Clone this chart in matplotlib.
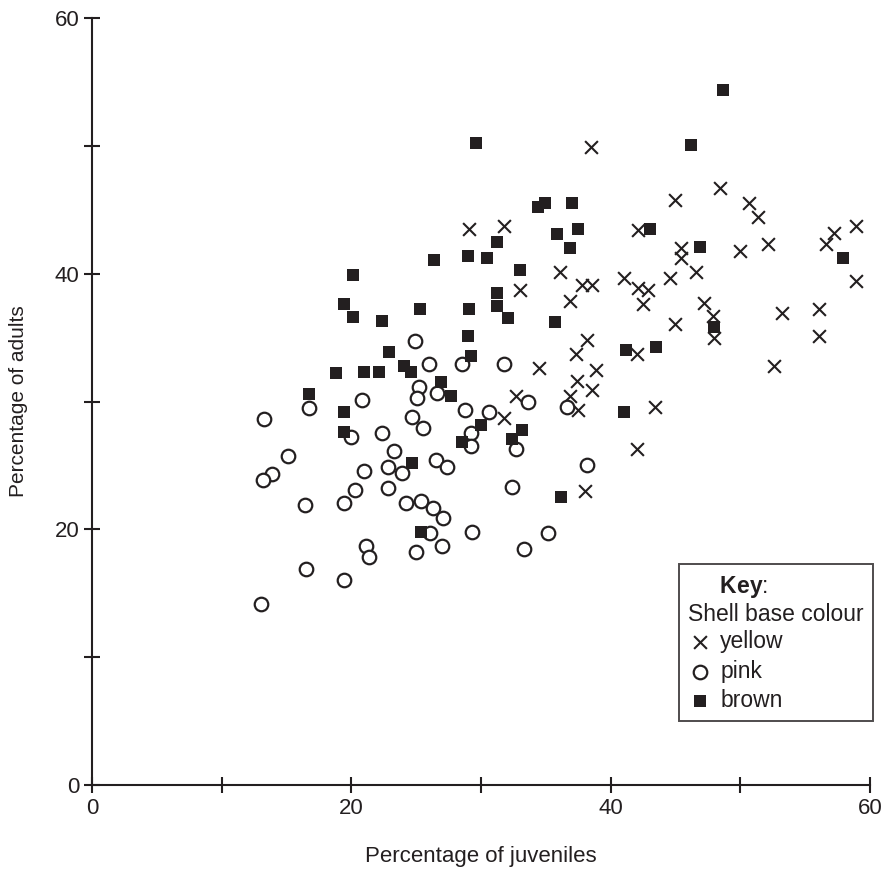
import matplotlib
matplotlib.use('Agg')
import matplotlib.pyplot as plt
import numpy as np

plt.rcParams['font.family'] = ['Liberation Sans', 'DejaVu Sans']
plt.rcParams['mathtext.fontset'] = 'custom'
plt.rcParams['mathtext.bf'] = 'Liberation Sans:bold'
plt.rcParams['mathtext.rm'] = 'Liberation Sans'

# shell base colour groups: (percentage of juveniles, percentage of adults)
yellow_x = [38.5, 29.1, 31.8, 36.1, 33.0, 37.8, 38.6, 36.9, 38.2, 37.3, 34.5, 38.9, 37.4,
            38.6, 36.9, 32.7, 37.5, 31.8, 38.0, 48.4, 45.0, 50.7, 51.4, 42.1, 57.2, 58.9,
            56.6, 52.1, 50.0, 45.4, 45.4, 41.0, 44.6, 46.6, 42.1, 42.9, 42.5, 47.2, 47.9,
            45.0, 53.2, 56.1, 58.9, 48.0, 56.1, 52.6, 42.0, 43.4, 42.0]
yellow_y = [49.9, 43.5, 43.7, 40.1, 38.7, 39.1, 39.1, 37.9, 34.8, 33.7, 32.6, 32.5, 31.6,
            30.9, 30.4, 30.4, 29.3, 28.7, 23.0, 46.7, 45.8, 45.5, 44.4, 43.4, 43.2, 43.7,
            42.3, 42.3, 41.8, 42.0, 41.2, 39.7, 39.7, 40.1, 38.9, 38.7, 37.6, 37.7, 36.7,
            36.1, 36.9, 37.2, 39.4, 35.0, 35.1, 32.8, 33.7, 29.6, 26.3]

pink_x = [24.9, 26.0, 28.5, 31.8, 25.2, 25.1, 26.6, 20.8, 16.7, 13.3, 24.7, 25.5, 20.0,
          22.4, 28.8, 30.6, 33.6, 36.6, 29.2, 29.2, 32.7, 26.5, 27.4, 38.2, 32.4, 29.3,
          35.2, 33.3, 23.3, 15.1, 13.9, 13.2, 21.0, 22.8, 23.9, 20.3, 22.8, 19.4, 16.4,
          24.2, 25.4, 26.3, 27.1, 26.1, 27.0, 25.0, 21.1, 21.4, 16.5, 19.4, 13.0]
pink_y = [34.7, 32.9, 32.9, 32.9, 31.1, 30.3, 30.7, 30.1, 29.5, 28.6, 28.8, 27.9, 27.2,
          27.5, 29.3, 29.2, 30.0, 29.6, 27.5, 26.5, 26.3, 25.4, 24.9, 25.0, 23.3, 19.8,
          19.7, 18.5, 26.1, 25.7, 24.3, 23.9, 24.6, 24.9, 24.4, 23.1, 23.2, 22.1, 21.9,
          22.1, 22.2, 21.7, 20.9, 19.7, 18.7, 18.2, 18.7, 17.8, 16.9, 16.0, 14.2]

brown_x = [48.65, 29.6, 46.2, 34.4, 34.9, 37.0, 43.0, 37.5, 35.9, 31.2, 36.9, 46.9, 26.4,
           30.5, 29.0, 20.1, 33.0, 31.2, 31.2, 57.95, 48.0, 19.4, 20.1, 22.4, 25.3, 22.9,
           18.8, 21.0, 22.1, 24.1, 24.6, 26.9, 27.7, 16.7, 19.4, 19.4, 29.1, 32.1, 35.7,
           29.0, 29.2, 30.0, 28.5, 33.2, 32.4, 36.2, 25.4, 24.7, 41.2, 43.5, 41.0]
brown_y = [54.4, 50.2, 50.1, 45.2, 45.5, 45.5, 43.5, 43.5, 43.1, 42.5, 42.0, 42.1, 41.1,
           41.2, 41.4, 39.9, 40.3, 38.5, 37.5, 41.2, 35.8, 37.6, 36.6, 36.3, 37.2, 33.9,
           32.2, 32.3, 32.3, 32.8, 32.3, 31.5, 30.4, 30.6, 29.2, 27.6, 37.2, 36.5, 36.2,
           35.1, 33.6, 28.2, 26.8, 27.8, 27.1, 22.5, 19.8, 25.2, 34.0, 34.3, 29.2]

tick_vals = [0, 10, 20, 30, 40, 50, 60]
tick_text = ['0', '', '20', '', '40', '', '60']

ink = '#231f20'

fig = plt.figure(figsize=(8.92, 8.71), dpi=100)
ax = fig.add_axes([0.1031, 0.0987, 0.8722, 0.8806])

ax.scatter(yellow_x, yellow_y, marker='x', s=85, color=ink, linewidths=1.5, label='yellow', clip_on=False)
ax.scatter(pink_x, pink_y, marker='o', s=95, facecolors='white', edgecolors=ink, linewidths=1.6,
           label='pink', clip_on=False)
ax.scatter(brown_x, brown_y, marker='s', s=80, color=ink, linewidths=0, label='brown', clip_on=False)

ax.set_xlim(0, 60)
ax.set_ylim(0, 60)
ax.set_xticks(tick_vals)
ax.set_yticks(tick_vals)
ax.set_xticklabels(tick_text)
ax.set_yticklabels(tick_text)
for s in ['top', 'right']:
    ax.spines[s].set_visible(False)
for s in ['left', 'bottom']:
    ax.spines[s].set_linewidth(1.5)
    ax.spines[s].set_color(ink)
ax.tick_params(direction='inout', length=12, width=1.5, color=ink, labelsize=16,
               labelcolor=ink, pad=3)

ax.set_xlabel('Percentage of juveniles', fontsize=16, color=ink, labelpad=20)
ax.set_ylabel('Percentage of adults', fontsize=15, color=ink, labelpad=19)

leg = ax.legend(title='     $\\bf{Key}$:\nShell base colour', loc='lower right',
                bbox_to_anchor=(1.004, 0.083), frameon=True, fancybox=False,
                edgecolor=ink, fontsize=16.5, title_fontsize=16.5, handletextpad=0.4,
                borderpad=0.4, labelspacing=0.28, handlelength=1.0, borderaxespad=0)
leg.get_frame().set_linewidth(1.4)
leg._legend_box.align = 'left'
leg._legend_box.sep = 3
for t in leg.get_texts():
    t.set_color(ink)
leg.get_title().set_color(ink)
leg.get_title().set_linespacing(1.2)

fig.savefig('out.png', dpi=100)
